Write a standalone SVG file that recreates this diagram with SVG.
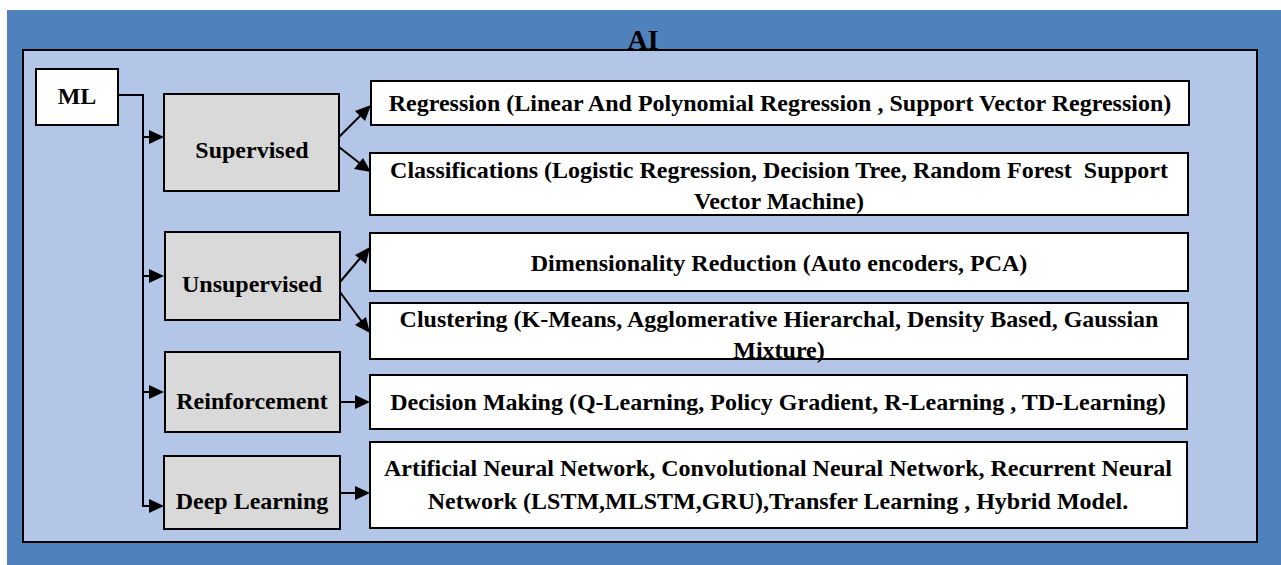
<svg xmlns="http://www.w3.org/2000/svg" width="1281" height="565" viewBox="0 0 1281 565">
<style>
.t{font-family:"Liberation Serif","Times New Roman",serif;font-weight:bold;fill:#000;font-size:24px;text-anchor:middle}
.w{fill:#fff;stroke:#000;stroke-width:2}
.g{fill:#d9d9d9;stroke:#000;stroke-width:2}
.c{fill:none;stroke:#000;stroke-width:2}
</style>
<rect x="7" y="10" width="1274" height="555" fill="#4f81bd"/>
<rect id="ai" x="23" y="50" width="1234" height="492" fill="#b3c6e7" stroke="#000" stroke-width="2"/>
<text class="t" x="643" y="49" style="font-size:28px">AI</text>

<g id="connectors">
<polyline class="c" points="118,95 143,95 143,506 150,506"/>
<line class="c" x1="143" y1="137" x2="150" y2="137"/>
<line class="c" x1="143" y1="276" x2="150" y2="276"/>
<line class="c" x1="143" y1="392" x2="150" y2="392"/>
<polygon points="149,130 164,137 149,144" fill="#000"/>
<polygon points="149,269 164,276 149,283" fill="#000"/>
<polygon points="149,385 164,392 149,399" fill="#000"/>
<polygon points="149,499 164,506 149,513" fill="#000"/>
<line class="c" x1="339" y1="137" x2="362" y2="114"/>
<polygon points="371,105 365,121 355,111" fill="#000"/>
<line class="c" x1="339" y1="147" x2="362" y2="165"/>
<polygon points="371,172 354,169 363,158" fill="#000"/>
<line class="c" x1="340" y1="282" x2="362" y2="256"/>
<polygon points="370,247 366,264 355,255" fill="#000"/>
<line class="c" x1="340" y1="292" x2="362" y2="322"/>
<polygon points="370,333 355,325 366,317" fill="#000"/>
<line class="c" x1="340" y1="402" x2="356" y2="402"/>
<polygon points="355,395 370,402 355,409" fill="#000"/>
<line class="c" x1="340" y1="493" x2="356" y2="493"/>
<polygon points="355,486 370,493 355,500" fill="#000"/>
</g>

<g id="ml"><rect class="w" x="36" y="69" width="82" height="56"/><text class="t" x="77" y="104">ML</text></g>
<g id="supervised"><rect class="g" x="164" y="94" width="175" height="97"/><text class="t" x="252" y="158">Supervised</text></g>
<g id="unsupervised"><rect class="g" x="165" y="232" width="175" height="88"/><text class="t" x="252" y="292">Unsupervised</text></g>
<g id="reinforcement"><rect class="g" x="165" y="352" width="175" height="80"/><text class="t" x="252" y="409">Reinforcement</text></g>
<g id="deeplearning"><rect class="g" x="164" y="456" width="176" height="73"/><text class="t" x="252" y="509">Deep Learning</text></g>

<g id="regression"><rect class="w" x="371" y="81" width="818" height="44"/><text class="t" x="780" y="111">Regression (Linear And Polynomial Regression , Support Vector Regression)</text></g>
<g id="classifications"><rect class="w" x="370" y="153" width="818" height="62"/><text class="t" x="779" y="178" style="white-space:pre">Classifications (Logistic Regression, Decision Tree, Random Forest  Support</text><text class="t" x="779" y="209">Vector Machine)</text></g>
<g id="dimensionality"><rect class="w" x="370" y="233" width="818" height="58"/><text class="t" x="779" y="271">Dimensionality Reduction (Auto encoders, PCA)</text></g>
<g id="clustering"><rect class="w" x="370" y="303" width="818" height="56"/><text class="t" x="779" y="327">Clustering (K-Means, Agglomerative Hierarchal, Density Based, Gaussian</text><text class="t" x="779" y="358">Mixture)</text></g>
<g id="decision"><rect class="w" x="370" y="375" width="817" height="54"/><text class="t" x="778" y="410">Decision Making (Q-Learning, Policy Gradient, R-Learning , TD-Learning)</text></g>
<g id="ann"><rect class="w" x="370" y="442" width="817" height="86"/><text class="t" x="778" y="476">Artificial Neural Network, Convolutional Neural Network, Recurrent Neural</text><text class="t" x="778" y="509">Network (LSTM,MLSTM,GRU),Transfer Learning , Hybrid Model.</text></g>
</svg>
